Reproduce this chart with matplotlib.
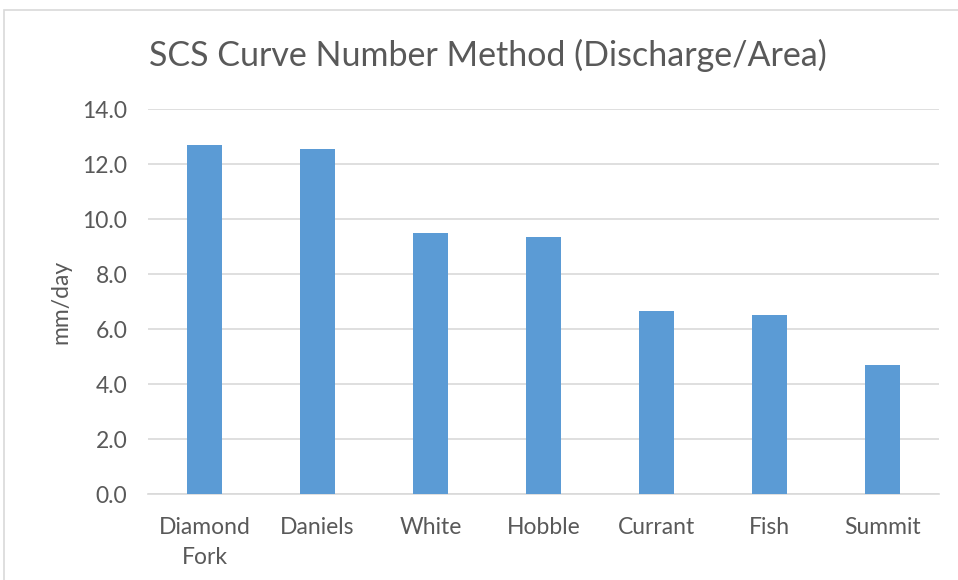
import matplotlib

matplotlib.use("Agg")
import matplotlib.pyplot as plt
import numpy as np
from matplotlib.patches import Rectangle

sites = ["Diamond\nFork", "Daniels", "White", "Hobble", "Currant", "Fish", "Summit"]
discharge_per_area = [12.70, 12.56, 9.49, 9.37, 6.68, 6.53, 4.69]
y_ticks = [0, 2, 4, 6, 8, 10, 12, 14]

BAR_COLOR = "#5B9BD5"
TEXT_COLOR = "#595959"
GRID_COLOR = "#D9D9D9"

plt.rcParams["font.family"] = ["Lato", "DejaVu Sans"]

fig = plt.figure(figsize=(9.58, 5.8), dpi=100)
W, H = 958, 580

# chart frame (right and bottom edges run off the canvas)
fig.patches.append(
    Rectangle((4 / W, -0.1), 1.2, 1.1 - 10 / H, transform=fig.transFigure,
              fill=False, edgecolor=GRID_COLOR, linewidth=1.2)
)

ax = fig.add_axes([148 / W, 1 - 494.3 / H, (939 - 148) / W, (494.3 - 109.3) / H])
x = np.arange(len(sites))
ax.bar(x, discharge_per_area, width=0.31, color=BAR_COLOR, zorder=3)

ax.set_xlim(-0.5, len(sites) - 0.5)
ax.set_ylim(0, 14)
ax.set_yticks(y_ticks)
ax.set_yticklabels([f"{v:.1f}" for v in y_ticks])
ax.set_xticks(x)
ax.set_xticklabels(sites, linespacing=1.55)

ax.grid(axis="y", color=GRID_COLOR, linewidth=1.2, zorder=0)
for side in ("top", "right", "left"):
    ax.spines[side].set_visible(False)
ax.spines["bottom"].set_color(GRID_COLOR)
ax.spines["bottom"].set_linewidth(1.2)
ax.tick_params(axis="both", length=0, labelsize=16.5, colors=TEXT_COLOR)
ax.tick_params(axis="y", pad=15)
ax.tick_params(axis="x", pad=16)

ax.set_ylabel("mm/day", fontsize=16.5, color=TEXT_COLOR, labelpad=8)
fig.text(488 / W, 1 - 55 / H, "SCS Curve Number Method (Discharge/Area)",
         ha="center", va="center", fontsize=24.5, color=TEXT_COLOR)

fig.savefig("out.png", dpi=100)
